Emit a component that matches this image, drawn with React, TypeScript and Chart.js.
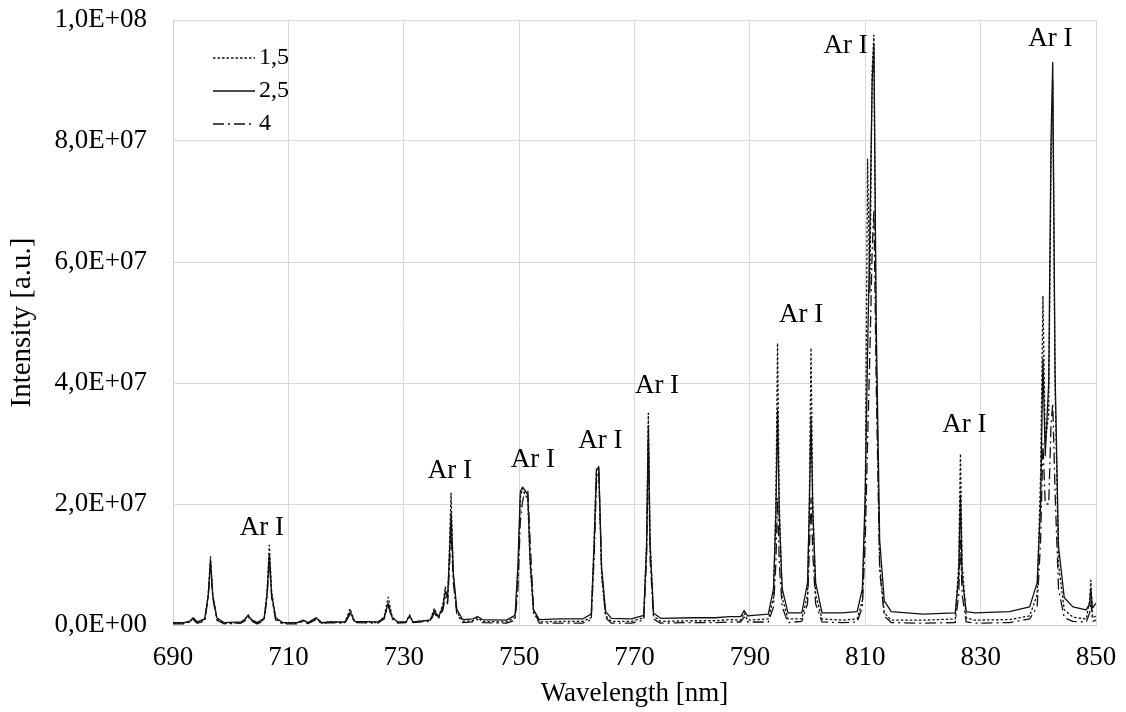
import { useEffect, useRef } from "react";
import { Chart, registerables } from "chart.js";

Chart.register(...registerables);

// Wavelength grid [nm]
const wavelength = [
  690.0, 692.0, 693.0, 693.5, 694.2, 695.5, 696.1, 696.5, 696.9, 697.6, 698.8,
  701.8, 702.5, 703.0, 703.6, 704.6, 705.8, 706.3, 706.7, 707.1, 707.8, 709.0,
  711.5, 712.6, 713.4, 714.8, 715.8, 717.0, 719.8, 720.7, 721.5, 725.5, 726.6,
  727.3, 728.0, 729.0, 730.4, 731.0, 731.6, 734.6, 735.3, 736.0, 736.8, 737.2,
  737.6, 737.9, 738.2, 738.6, 739.2, 740.2, 742.0, 742.8, 743.6, 747.8, 749.3,
  749.8, 750.2, 750.6, 751.0, 751.5, 751.9, 752.5, 753.5, 757.0, 761.0, 762.5,
  763.0, 763.4, 763.8, 764.3, 765.0, 766.0, 769.5, 771.6, 772.1, 772.4, 772.7,
  773.3, 774.5, 780.0, 784.0, 786.5, 788.4, 789.0, 789.6, 793.2, 794.1, 794.5,
  794.8, 795.1, 795.6, 796.6, 799.0, 800.0, 800.3, 800.6, 800.9, 801.4, 802.5,
  806.0, 808.6, 809.5, 810.0, 810.4, 810.8, 811.2, 811.5, 811.9, 812.5, 813.3,
  814.5, 820.0, 825.6, 826.2, 826.5, 826.8, 827.5, 829.0, 835.0, 838.5, 839.8,
  840.4, 840.8, 841.2, 841.8, 842.2, 842.5, 842.9, 843.5, 844.5, 846.0, 848.3,
  848.9, 849.1, 849.4, 850.0,
];

// Intensity [a.u.] for series "1,5"
const intensity15 = [
  0.3e6, 0.3e6, 0.6e6, 1.1e6, 0.4e6, 0.8e6, 5.0e6, 11.3e6, 5.0e6, 1.0e6, 0.3e6,
  0.4e6, 0.9e6, 1.7e6, 0.8e6, 0.3e6, 0.9e6, 5.5e6, 13.2e6, 5.5e6, 1.0e6, 0.3e6,
  0.3e6, 0.7e6, 0.3e6, 1.1e6, 0.3e6, 0.5e6, 0.4e6, 2.7e6, 0.5e6, 0.4e6, 1.3e6,
  4.6e6, 1.3e6, 0.4e6, 0.5e6, 1.7e6, 0.5e6, 0.8e6, 2.8e6, 1.2e6, 3.5e6, 6.3e6,
  4.0e6, 12.0e6, 21.8e6, 8.0e6, 2.2e6, 0.6e6, 0.7e6, 1.2e6, 0.6e6, 0.5e6, 1.2e6,
  8.0e6, 21.0e6, 22.6e6, 21.5e6, 21.0e6, 10.0e6, 2.0e6, 0.5e6, 0.6e6, 0.6e6, 1.2e6,
  14.0e6, 25.8e6, 25.9e6, 8.0e6, 1.5e6, 0.6e6, 0.6e6, 1.2e6, 14.0e6, 35.0e6, 14.0e6,
  1.5e6, 0.6e6, 0.7e6, 0.7e6, 0.9e6, 0.8e6, 2.0e6, 0.8e6, 1.0e6, 4.5e6, 20.0e6,
  46.6e6, 20.0e6, 4.5e6, 1.0e6, 1.0e6, 5.0e6, 20.0e6, 45.8e6, 20.0e6, 5.0e6, 1.0e6,
  0.8e6, 1.0e6, 4.0e6, 20.0e6, 77.0e6, 55.0e6, 92.0e6, 97.5e6, 45.0e6, 10.0e6, 2.0e6,
  0.8e6, 0.8e6, 1.0e6, 10.0e6, 28.3e6, 10.0e6, 1.2e6, 0.8e6, 0.9e6, 1.5e6, 5.0e6,
  25.0e6, 54.4e6, 30.0e6, 35.0e6, 75.0e6, 90.0e6, 40.0e6, 10.0e6, 2.5e6, 1.3e6, 1.0e6,
  4.0e6, 7.4e6, 1.2e6, 1.5e6,
];

// Intensity [a.u.] for series "2,5"
const intensity25 = [
  0.4e6, 0.4e6, 0.7e6, 1.2e6, 0.5e6, 1.0e6, 4.8e6, 10.6e6, 4.8e6, 1.2e6, 0.4e6,
  0.5e6, 1.0e6, 1.6e6, 0.9e6, 0.4e6, 1.1e6, 5.0e6, 11.8e6, 5.0e6, 1.2e6, 0.4e6,
  0.4e6, 0.8e6, 0.4e6, 1.2e6, 0.4e6, 0.5e6, 0.5e6, 2.1e6, 0.6e6, 0.5e6, 1.2e6,
  3.6e6, 1.2e6, 0.5e6, 0.5e6, 1.5e6, 0.5e6, 0.8e6, 2.4e6, 1.3e6, 3.0e6, 5.6e6,
  4.5e6, 11.0e6, 18.5e6, 8.5e6, 2.6e6, 0.9e6, 1.0e6, 1.4e6, 0.9e6, 0.8e6, 1.6e6,
  10.0e6, 22.0e6, 22.8e6, 22.3e6, 21.5e6, 11.0e6, 2.5e6, 0.9e6, 1.0e6, 1.0e6, 1.8e6,
  13.0e6, 25.5e6, 26.2e6, 9.5e6, 2.2e6, 1.1e6, 1.0e6, 1.6e6, 13.0e6, 33.0e6, 13.0e6,
  2.0e6, 1.1e6, 1.2e6, 1.2e6, 1.4e6, 1.4e6, 2.4e6, 1.5e6, 1.8e6, 6.0e6, 18.0e6,
  35.5e6, 18.0e6, 6.0e6, 2.0e6, 2.0e6, 7.0e6, 19.0e6, 34.5e6, 19.0e6, 7.0e6, 2.0e6,
  2.0e6, 2.2e6, 6.0e6, 22.0e6, 45.0e6, 65.0e6, 90.0e6, 96.0e6, 50.0e6, 14.0e6, 4.0e6,
  2.2e6, 1.8e6, 2.0e6, 8.0e6, 21.5e6, 8.0e6, 2.2e6, 2.0e6, 2.2e6, 3.0e6, 7.0e6,
  20.0e6, 44.0e6, 28.0e6, 40.0e6, 80.0e6, 93.0e6, 42.0e6, 13.0e6, 4.5e6, 3.0e6, 2.5e6,
  3.5e6, 6.0e6, 2.8e6, 3.6e6,
];

// Intensity [a.u.] for series "4"
const intensity4 = [
  0.2e6, 0.2e6, 0.5e6, 0.9e6, 0.3e6, 0.6e6, 4.5e6, 10.0e6, 4.5e6, 0.8e6, 0.2e6,
  0.3e6, 0.7e6, 1.4e6, 0.6e6, 0.2e6, 0.7e6, 4.5e6, 10.8e6, 4.5e6, 0.8e6, 0.2e6,
  0.2e6, 0.6e6, 0.2e6, 0.9e6, 0.2e6, 0.4e6, 0.3e6, 1.8e6, 0.4e6, 0.3e6, 1.0e6,
  3.2e6, 1.0e6, 0.3e6, 0.4e6, 1.3e6, 0.4e6, 0.6e6, 2.0e6, 1.0e6, 2.5e6, 4.6e6,
  3.5e6, 9.0e6, 15.5e6, 7.0e6, 1.8e6, 0.4e6, 0.5e6, 0.9e6, 0.4e6, 0.3e6, 0.8e6,
  6.0e6, 17.0e6, 20.5e6, 22.0e6, 22.4e6, 14.0e6, 2.5e6, 0.3e6, 0.3e6, 0.3e6, 0.9e6,
  11.0e6, 23.5e6, 25.5e6, 9.0e6, 1.2e6, 0.3e6, 0.3e6, 0.8e6, 11.0e6, 30.5e6, 11.0e6,
  1.0e6, 0.3e6, 0.4e6, 0.4e6, 0.5e6, 0.5e6, 1.3e6, 0.5e6, 0.5e6, 3.0e6, 10.0e6,
  21.0e6, 10.0e6, 3.0e6, 0.4e6, 0.6e6, 3.5e6, 12.0e6, 21.0e6, 12.0e6, 3.5e6, 0.5e6,
  0.4e6, 0.5e6, 3.0e6, 14.0e6, 30.0e6, 45.0e6, 62.0e6, 68.6e6, 40.0e6, 9.0e6, 1.5e6,
  0.4e6, 0.3e6, 0.4e6, 5.0e6, 14.0e6, 5.0e6, 0.5e6, 0.3e6, 0.4e6, 1.0e6, 3.0e6,
  14.0e6, 30.0e6, 20.0e6, 20.0e6, 33.0e6, 36.7e6, 22.0e6, 6.0e6, 1.2e6, 0.6e6, 0.5e6,
  2.0e6, 4.0e6, 0.6e6, 0.8e6,
];

const seriesLabels = ["1,5", "2,5", "4"];

// Peak annotations ("Ar I") anchored in data coordinates
const peakLabelText = "Ar I";
const peakLabelX = [705.4, 738.0, 752.4, 764.1, 773.9, 798.9, 806.6, 827.2, 842.1];
const peakLabelY = [1.6e7, 2.55e7, 2.73e7, 3.04e7, 3.95e7, 5.12e7, 9.57e7, 3.31e7, 9.69e7];

const xMin = 690;
const xMax = 850;
const xStep = 20;
const yMin = 0;
const yMax = 1e8;
const yStep = 2e7;

const FONT = "'Liberation Serif', 'Times New Roman', serif";

function formatSci(v: number): string {
  if (v === 0) return "0,0E+00";
  const exp = Math.floor(Math.log10(Math.abs(v)) + 1e-9);
  const mant = v / Math.pow(10, exp);
  return mant.toFixed(1).replace(".", ",") + "E+" + String(exp).padStart(2, "0");
}

export default function App() {
  const canvasRef = useRef<HTMLCanvasElement | null>(null);

  useEffect(() => {
    document.body.style.margin = "0";
    const canvas = canvasRef.current;
    if (!canvas) return;

    const styles = [
      { borderDash: [2.5, 2] },
      { borderDash: [] as number[] },
      { borderDash: [11, 4, 2, 4] },
    ];
    const seriesValues = [intensity15, intensity25, intensity4];

    const datasets = seriesLabels.map((label, i) => ({
      label,
      data: wavelength.map((x, j) => ({ x, y: seriesValues[i][j] })),
      borderColor: "#111",
      borderWidth: 1.3,
      borderDash: styles[i].borderDash,
      borderJoinStyle: "round" as const,
      pointRadius: 0,
      tension: 0,
      fill: false,
    }));

    const legendPlugin = {
      id: "insideLegend",
      afterDraw(chart: any) {
        const ctx = chart.ctx as CanvasRenderingContext2D;
        const rows = [58, 91, 124];
        ctx.save();
        chart.data.datasets.forEach((ds: any, i: number) => {
          const y = rows[i];
          ctx.strokeStyle = "#111";
          ctx.lineWidth = 1.3;
          ctx.setLineDash(ds.borderDash || []);
          ctx.beginPath();
          ctx.moveTo(213, y);
          ctx.lineTo(255, y);
          ctx.stroke();
          ctx.setLineDash([]);
          ctx.fillStyle = "#000";
          ctx.font = `24px ${FONT}`;
          ctx.textAlign = "left";
          ctx.textBaseline = "middle";
          ctx.fillText(ds.label, 259, y);
        });
        ctx.restore();
      },
    };

    const peakLabelPlugin = {
      id: "peakLabels",
      afterDatasetsDraw(chart: any) {
        const ctx = chart.ctx as CanvasRenderingContext2D;
        const xs = chart.scales.x;
        const ys = chart.scales.y;
        ctx.save();
        ctx.fillStyle = "#000";
        ctx.font = `27px ${FONT}`;
        ctx.textAlign = "center";
        ctx.textBaseline = "middle";
        peakLabelX.forEach((px, i) => {
          ctx.fillText(peakLabelText, xs.getPixelForValue(px), ys.getPixelForValue(peakLabelY[i]));
        });
        ctx.restore();
      },
    };

    const chart = new Chart(canvas, {
      type: "line",
      data: { datasets },
      options: {
        animation: false,
        responsive: false,
        devicePixelRatio: 1,
        layout: { padding: { left: 0, top: 20, right: 30, bottom: 0 } },
        plugins: {
          legend: { display: false },
          tooltip: { enabled: false },
        },
        scales: {
          x: {
            type: "linear",
            min: xMin,
            max: xMax,
            ticks: {
              stepSize: xStep,
              padding: 17,
              color: "#000",
              font: { family: FONT, size: 27 },
              maxRotation: 0,
            },
            grid: { color: "#d9d9d9", lineWidth: 1, drawTicks: false },
            border: { color: "#c8c8c8", width: 1 },
            title: {
              display: true,
              text: "Wavelength [nm]",
              color: "#000",
              font: { family: FONT, size: 27 },
              padding: { top: 0, bottom: 2 },
            },
            afterFit(scale: any) {
              scale.height = 87;
              scale.paddingLeft = 0;
              scale.paddingRight = 0;
              scale.paddingTop = 0;
              scale.paddingBottom = 0;
            },
          },
          y: {
            type: "linear",
            min: yMin,
            max: yMax,
            ticks: {
              stepSize: yStep,
              padding: 26,
              color: "#000",
              font: { family: FONT, size: 27 },
              callback: (v: any) => formatSci(Number(v)),
            },
            grid: { color: "#d9d9d9", lineWidth: 1, drawTicks: false },
            border: { color: "#d0d0d0", width: 1 },
            title: {
              display: true,
              text: "Intensity [a.u.]",
              color: "#000",
              font: { family: FONT, size: 29 },
              padding: { top: 5, bottom: 0 },
            },
            afterFit(scale: any) {
              scale.width = 173;
              scale.paddingLeft = 0;
              scale.paddingRight = 0;
              scale.paddingTop = 0;
              scale.paddingBottom = 0;
            },
          },
        },
      },
      plugins: [legendPlugin, peakLabelPlugin],
    });

    return () => {
      chart.destroy();
    };
  }, []);

  return (
    <div style={{ position: "fixed", left: 0, top: 0, width: 1126, height: 712, background: "#fff" }}>
      <canvas ref={canvasRef} width={1126} height={712} style={{ width: 1126, height: 712, display: "block" }} />
    </div>
  );
}
